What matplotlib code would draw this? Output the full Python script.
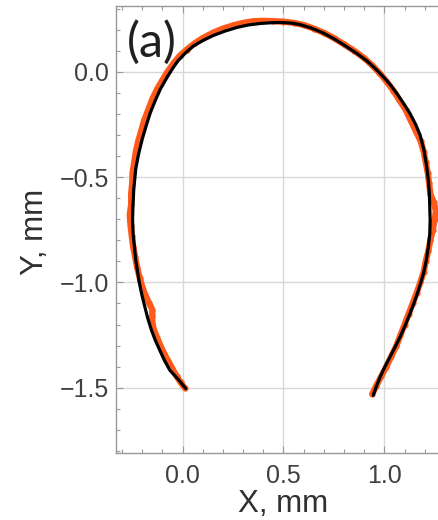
import matplotlib
matplotlib.use("Agg")
import matplotlib.pyplot as plt
from matplotlib.ticker import MultipleLocator

# measured data points (orange)
data_x = [0.010, -0.010, -0.030, -0.050, -0.070, -0.090, -0.110, -0.125, -0.140, -0.150,
          -0.150, -0.150, -0.165, -0.185, -0.200, -0.212, -0.225, -0.235, -0.245, -0.252,
          -0.258, -0.262, -0.255, -0.255, -0.250, -0.248, -0.240, -0.232, -0.220, -0.205,
          -0.190, -0.170, -0.150, -0.125, -0.100, -0.075, -0.045, -0.015, 0.020, 0.060,
          0.100, 0.150, 0.200, 0.250, 0.300, 0.350, 0.400, 0.450, 0.500, 0.550,
          0.600, 0.650, 0.700, 0.750, 0.800, 0.850, 0.900, 0.940, 0.975, 1.010,
          1.045, 1.075, 1.105, 1.130, 1.155, 1.180, 1.195, 1.205, 1.215, 1.222,
          1.228, 1.245, 1.255, 1.250, 1.240, 1.228, 1.218, 1.205, 1.195, 1.178,
          1.160, 1.140, 1.120, 1.100, 1.080, 1.060, 1.035, 1.010, 0.985, 0.960, 0.940]
data_y = [-1.500, -1.475, -1.445, -1.410, -1.375, -1.340, -1.300, -1.265, -1.230, -1.195,
          -1.160, -1.130, -1.100, -1.060, -1.020, -0.980, -0.930, -0.880, -0.830, -0.780,
          -0.730, -0.680, -0.630, -0.580, -0.530, -0.480, -0.430, -0.380, -0.330, -0.280,
          -0.230, -0.180, -0.130, -0.080, -0.040, 0.000, 0.040, 0.075, 0.105, 0.135,
          0.160, 0.185, 0.205, 0.220, 0.232, 0.240, 0.242, 0.240, 0.238, 0.232,
          0.222, 0.205, 0.185, 0.160, 0.130, 0.100, 0.065, 0.030, -0.005, -0.045,
          -0.090, -0.135, -0.180, -0.230, -0.280, -0.330, -0.380, -0.430, -0.480, -0.530,
          -0.580, -0.620, -0.660, -0.700, -0.750, -0.800, -0.850, -0.900, -0.950, -1.000,
          -1.050, -1.100, -1.150, -1.200, -1.250, -1.300, -1.350, -1.400, -1.445, -1.490, -1.530]

# fitted curve (black)
fit_x = [0.016, -0.020, -0.063, -0.090, -0.113, -0.135, -0.154, -0.172, -0.187, -0.202,
         -0.215, -0.232, -0.245, -0.248, -0.246, -0.242, -0.232, -0.218, -0.200, -0.180,
         -0.160, -0.137, -0.110, -0.079, -0.050, -0.022, 0.015, 0.053, 0.100, 0.152,
         0.210, 0.268, 0.325, 0.383, 0.440, 0.490, 0.540, 0.582, 0.640, 0.697,
         0.755, 0.813, 0.865, 0.913, 0.955, 0.995, 1.030, 1.062, 1.095, 1.127,
         1.155, 1.177, 1.196, 1.210, 1.218, 1.223, 1.227, 1.225, 1.218, 1.208,
         1.194, 1.169, 1.150, 1.127, 1.103, 1.078, 1.053, 1.028, 1.003, 0.979, 0.960, 0.945]
fit_y = [-1.504, -1.462, -1.417, -1.370, -1.322, -1.275, -1.227, -1.172, -1.116, -1.058,
         -0.998, -0.895, -0.768, -0.700, -0.641, -0.560, -0.460, -0.390, -0.320, -0.255,
         -0.195, -0.140, -0.082, -0.030, 0.015, 0.053, 0.090, 0.122, 0.148, 0.172,
         0.193, 0.210, 0.222, 0.229, 0.233, 0.234, 0.231, 0.224, 0.207, 0.184,
         0.154, 0.119, 0.086, 0.052, 0.015, -0.024, -0.062, -0.103, -0.150, -0.198,
         -0.250, -0.300, -0.370, -0.451, -0.515, -0.578, -0.704, -0.770, -0.831, -0.895,
         -0.958, -1.037, -1.090, -1.148, -1.205, -1.259, -1.307, -1.354, -1.400, -1.449, -1.495, -1.536]

x_ticks = [0.0, 0.5, 1.0]
y_ticks = [-1.5, -1.0, -0.5, 0.0]
x_label = "X, mm"
y_label = "Y, mm"
panel_label = "(a)"

plt.rcParams['font.family'] = ['Liberation Sans', 'DejaVu Sans']

fig = plt.figure(figsize=(4.39, 5.20), dpi=100)
ax = fig.add_axes([0.2642, 0.1288, 0.763, 0.8596])

orange = "#ff5a1a"
ax.plot(data_x, data_y, color=orange, lw=4.5, solid_capstyle='round', zorder=2)
ax.plot(data_x, data_y, 'o', color=orange, ms=4.5, mec='none', zorder=2)
ax.plot(fit_x, fit_y, color='black', lw=2.3, solid_capstyle='round', zorder=3)

ax.set_xlim(-0.33, 1.33)
ax.set_ylim(-1.81, 0.312)
ax.set_xticks(x_ticks)
ax.set_yticks(y_ticks)
ax.set_xticklabels(["0.0", "0.5", "1.0"])
ax.set_yticklabels(["\u22121.5", "\u22121.0", "\u22120.5", "0.0"])
ax.xaxis.set_minor_locator(MultipleLocator(0.1))
ax.yaxis.set_minor_locator(MultipleLocator(0.1))
ax.grid(True, which='major', color='#d8d8d8', lw=1.0, zorder=0)
ax.set_axisbelow(True)

ax.tick_params(which='both', direction='in', top=True, right=True, color='#999999',
               labelsize=18, labelcolor='#404040')
ax.tick_params(which='major', length=5, width=0.8)
ax.tick_params(which='minor', length=3, width=0.8)
ax.tick_params(axis='x', pad=8)
ax.tick_params(axis='y', pad=5)
for s in ax.spines.values():
    s.set_color('#999999')
    s.set_linewidth(1.0)

fig.text(283 / 439, 1 - 512 / 520, x_label, ha='center', va='baseline', fontsize=22.5, color='#303030')
fig.text(35 / 439, 1 - 232 / 520, y_label, ha='center', va='center', rotation=90,
         fontsize=22.5, color='#303030')
fig.text(152 / 439, 1 - 42 / 520, panel_label, ha='center', va='center', fontsize=35,
         color='#202020', family=['Lato', 'DejaVu Sans'])

fig.savefig("out.png", dpi=100)
